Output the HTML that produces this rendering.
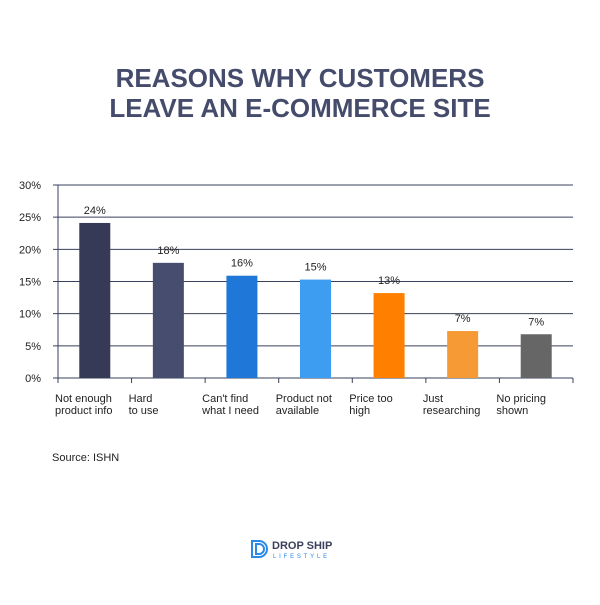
<!DOCTYPE html>
<html><head><meta charset="utf-8"><style>
body{margin:0;width:600px;height:600px;background:#fff;font-family:"Liberation Sans",sans-serif;overflow:hidden}
</style></head><body>
<svg width="600" height="600">
<text x="300" y="87" text-anchor="middle" font-size="26" font-weight="bold" fill="#454b6b">REASONS WHY CUSTOMERS</text>
<text x="300" y="117" text-anchor="middle" font-size="26" font-weight="bold" fill="#454b6b">LEAVE AN E-COMMERCE SITE</text>
<g id="grid"></g><g id="bars"></g><g id="xl"></g>
<text x="52" y="461" font-size="11" fill="#222">Source: ISHN</text>
<g>
<path d="M252 541 h7 a8 8 0 0 1 0 16 h-7 z M256 544 h3 a5 5 0 0 1 0 10 h-3 z" fill="none" stroke="#2b8ae6" stroke-width="2"/>
<text x="272" y="549" font-size="11" font-weight="bold" fill="#3a3f5c">DROP SHIP</text>
<text x="273" y="558" font-size="6" letter-spacing="2.8" fill="#2b8ae6">LIFESTYLE</text>
</g>
</svg>
<script>
const categories=[["Not enough","product info"],["Hard","to use"],["Can't find","what I need"],["Product not","available"],["Price too","high"],["Just","researching"],["No pricing","shown"]];
const values=[24.1,17.9,15.9,15.3,13.2,7.3,6.8];
const valueLabels=["24%","18%","16%","15%","13%","7%","7%"];
const tickValues=[0,5,10,15,20,25,30];
const colors=["#363a56","#474d6f","#1f78d8","#3d9df0","#ff8000","#f59a35","#666666"];
const NS="http://www.w3.org/2000/svg";
const x0=58,x1=573,y0=378,yTop=185;
const y=v=>y0-(v/30)*(y0-yTop);
const bw=(x1-x0)/categories.length;
const xc=i=>x0+bw*(i+0.5);
function mk(p,t,a){const e=document.createElementNS(NS,t);for(const k in a)e.setAttribute(k,a[k]);p.appendChild(e);return e;}
const g=document.getElementById('grid'),b=document.getElementById('bars'),xl=document.getElementById('xl');
tickValues.forEach(v=>{
 const l=mk(g,'line',{x1:x0-5,x2:x1,y1:y(v),y2:y(v),stroke:'#3a3f5c','stroke-width':1});
 
 
 const t=mk(g,'text',{x:41,y:y(v)+4,'text-anchor':'end','font-size':11,fill:'#222'});t.textContent=v+'%';
 
 
});
const ax=mk(g,'line',{x1:x0,x2:x0,y1:yTop,y2:y0+5,stroke:'#3a3f5c'});


for(let i=0;i<=categories.length;i++){const tk=mk(g,'line',{x1:x0+bw*i,x2:x0+bw*i,y1:y0,y2:y0+5,stroke:'#3a3f5c'});
 
 }
values.forEach((v,i)=>{
 const r=mk(b,'rect',{x:xc(i)-15.5,y:y(v),width:31,height:y0-y(v),fill:colors[i]});
 
 
 const t=mk(b,'text',{x:xc(i),y:y(v)-9,'text-anchor':'middle','font-size':11,fill:'#222'});t.textContent=valueLabels[i];
 
 
 categories[i].forEach((s,j)=>{const c=mk(xl,'text',{x:x0+bw*i-3,y:402+j*12,'font-size':11,fill:'#222'});c.textContent=s;
  
  });
});
</script>
</body></html>
